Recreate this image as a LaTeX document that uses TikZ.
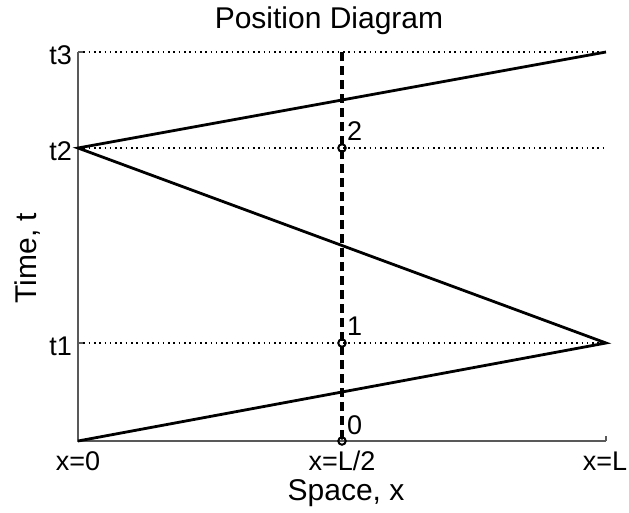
\documentclass[tikz,border=0pt]{standalone}
\usepackage{fontspec}
\setmainfont{Liberation Sans}
\tikzset{
  spine/.style={draw=black!65, line width=1.4pt},
  dotline/.style={draw=black, line width=1.8pt, dash pattern=on 1.6pt off 3.7pt},
  ray/.style={draw=black, line width=2.8pt},
  midline/.style={draw=black, line width=3.6pt, dash pattern=on 9pt off 5pt},
  marker/.style={draw=black, line width=2pt, circle, inner sep=0pt, minimum size=7.5pt},
  ticklab/.style={font=\fontsize{27}{30}\selectfont, inner sep=0pt},
  axlab/.style={font=\fontsize{30}{34}\selectfont, inner sep=0pt}
}
\begin{document}
\begin{tikzpicture}[x=1pt,y=-1pt]
\useasboundingbox (0,0) rectangle (629,512);
% key coordinates
\coordinate (O) at (78,441);
\coordinate (M) at (342,441);
\coordinate (E) at (606,441);
\coordinate (T1L) at (78,343);
\coordinate (T1R) at (606,343);
\coordinate (T2L) at (78,148);
\coordinate (T2R) at (606,148);
\coordinate (T3L) at (78,52);
\coordinate (T3R) at (606,52);
\coordinate (Mtop) at (342,52);
\coordinate (P0) at (342,441);
\coordinate (P1) at (342,343);
\coordinate (P2) at (342,148);
% dotted guides
\draw[dotline] (T1L) -- (T1R);
\draw[dotline] (T2L) -- (T2R);
\draw[dotline] (T3L) -- (T3R);
% axes
\draw[spine] (T3L) -- (O) -- (E);
\draw[spine] (O) -- ++(0,-5);
\draw[spine] (M) -- ++(0,-5);
\draw[spine] (E) -- ++(0,-5);
\draw[spine] (T1L) -- ++(5,0);
\draw[spine] (T2L) -- ++(5,0);
\draw[spine] (T3L) -- ++(5,0);
% rays
\draw[ray, line join=miter] (O) -- (T1R) -- (T2L) -- (T3R);
% middle dashed line
\draw[midline] (Mtop) -- (M);
% markers
\node[marker] (m0) at (P0) {};
\node[marker] (m1) at (P1) {};
\node[marker] (m2) at (P2) {};
\node[ticklab, anchor=base west] (l0) at (347,434) {0};
\node[ticklab, anchor=base west] (l1) at (347,335) {1};
\node[ticklab, anchor=base west] (l2) at (347,140) {2};
% tick labels
\node[ticklab, anchor=base east] (tt1) at (72,355) {t1};
\node[ticklab, anchor=base east] (tt2) at (72,160) {t2};
\node[ticklab, anchor=base east] (tt3) at (72,64) {t3};
\node[ticklab, anchor=base] (x0) at (78,470) {x=0};
\node[ticklab, anchor=base] (xm) at (342,470) {x=L/2};
\node[ticklab, anchor=base] (xl) at (605,470) {x=L};
% labels
\node[axlab, anchor=base] (title) at (329,28) {Position Diagram};
\node[axlab, anchor=base] (xlab) at (346,500) {Space, x};
\node[axlab, anchor=base, rotate=90] (ylab) at (36,258) {Time, t};
\end{tikzpicture}
\end{document}
